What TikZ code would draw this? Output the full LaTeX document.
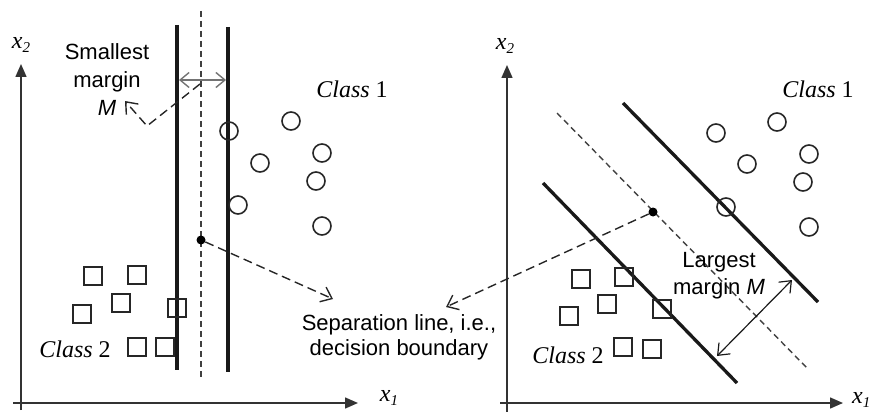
\documentclass[tikz,border=0pt]{standalone}
\usepackage{fontspec}
\setmainfont{Liberation Serif}
\setsansfont{Liberation Sans}
\usetikzlibrary{arrows.meta}
\tikzset{
  axis/.style={draw=black!80, line width=1.5pt, -{Triangle[length=13pt,width=11pt]}},
  bound/.style={draw=black!90, line width=3.3pt},
  midline/.style={draw=black!75, line width=1.4pt, dash pattern=on 6pt off 4pt},
  leader/.style={draw=black!85, line width=1.4pt, dash pattern=on 9pt off 5pt, -{Straight Barb[length=10pt,width=16pt,line width=1.4pt]}},
  circ/.style={circle, draw=black!85, line width=1.6pt, minimum size=18pt, inner sep=0pt},
  sq/.style={rectangle, draw=black!85, line width=1.6pt, minimum size=18pt, inner sep=0pt},
  dotnode/.style={circle, fill=black, minimum size=9pt, inner sep=0pt},
  sanslbl/.style={font=\sffamily\fontsize{22}{27}\selectfont, align=center, inner sep=0pt},
  serlbl/.style={font=\fontsize{24}{28}\selectfont, inner sep=0pt},
  axlbl/.style={font=\fontsize{24}{28}\selectfont, inner sep=0pt},
  marrow/.style={draw=black!55, line width=1.4pt, {Straight Barb[length=9pt,width=15pt,line width=1.4pt]}-{Straight Barb[length=9pt,width=15pt,line width=1.4pt]}},
  larrow/.style={draw=black!90, line width=1.2pt, {Straight Barb[length=10pt,width=16pt,line width=1.2pt]}-{Straight Barb[length=10pt,width=16pt,line width=1.2pt]}}
}
\begin{document}
\begin{tikzpicture}[x=1pt, y=-1pt]
\useasboundingbox (0,0) rectangle (870,412);
% ---------- left panel ----------
\coordinate (Lyb) at (21,410);
\coordinate (Lyt) at (21,64);
\coordinate (Lxl) at (13,403);
\coordinate (Lxr) at (358,403);
\draw[axis] (Lyb) -- (Lyt);
\draw[axis] (Lxl) -- (Lxr);
\node[axlbl] (Lx2) at (21,45) {\textit{x}\raisebox{-0.35ex}{\fontsize{15}{15}\selectfont\textit{2}}};
\node[axlbl] (Lx1) at (389,398) {\textit{x}\raisebox{-0.35ex}{\fontsize{15}{15}\selectfont\textit{1}}};

\coordinate (LAt) at (177,25);
\coordinate (LAb) at (177,370);
\coordinate (LBt) at (228,27);
\coordinate (LBb) at (228,372);
\coordinate (LMt) at (201,11);
\coordinate (LMb) at (201,380);
\draw[bound] (LAt) -- (LAb);
\draw[bound] (LBt) -- (LBb);
\draw[midline] (LMt) -- (LMb);

\coordinate (mA) at (179,80);
\coordinate (mB) at (226,80);
\draw[marrow] (mA) -- (mB);

\node[sanslbl, font=\sffamily\fontsize{22}{28}\selectfont] (small) at (107,80) {Smallest\\margin\\\textit{M}};
\coordinate (ls) at (200,84);
\coordinate (lc) at (147,126);
\coordinate (lt) at (125,101);
\draw[leader] (ls) -- (lc) -- (lt);

\node[circ] (lc1) at (229,131) {};
\node[circ] (lc2) at (291,121) {};
\node[circ] (lc3) at (260,163) {};
\node[circ] (lc4) at (322,153) {};
\node[circ] (lc5) at (316,181) {};
\node[circ] (lc6) at (238,205) {};
\node[circ] (lc7) at (322,226) {};
\node[serlbl] (lclass1) at (352,89) {\textit{Class} 1};

\node[sq] (ls1) at (93,276) {};
\node[sq] (ls2) at (137,275) {};
\node[sq] (ls3) at (121,303) {};
\node[sq] (ls4) at (82,314) {};
\node[sq] (ls5) at (177,308) {};
\node[sq] (ls6) at (137,347) {};
\node[sq] (ls7) at (165,347) {};
\node[serlbl] (lclass2) at (75,349) {\textit{Class} 2};

\node[dotnode] (ldot) at (201,240) {};

% ---------- separation label ----------
\node[sanslbl, font=\sffamily\fontsize{22}{25}\selectfont] (sep) at (399,337) {Separation line, i.e.,\\decision boundary};
\coordinate (sepL) at (333,299);
\coordinate (sepR) at (446,307);
\draw[leader] (ldot) -- (sepL);

% ---------- right panel ----------
\coordinate (Ryb) at (507,412);
\coordinate (Ryt) at (507,65);
\coordinate (Rxl) at (500,403);
\coordinate (Rxr) at (843,403);
\draw[axis] (Ryb) -- (Ryt);
\draw[axis] (Rxl) -- (Rxr);
\node[axlbl] (Rx2) at (505,46) {\textit{x}\raisebox{-0.35ex}{\fontsize{15}{15}\selectfont\textit{2}}};
\node[axlbl, anchor=west] (Rx1) at (852,400) {\textit{x}\raisebox{-0.35ex}{\fontsize{15}{15}\selectfont\textit{1}}};

\coordinate (RLt) at (543,183);
\coordinate (RLb) at (737,383);
\coordinate (RUt) at (623,103);
\coordinate (RUb) at (818,302);
\coordinate (RMt) at (557,113);
\coordinate (RMb) at (807,368);
\draw[bound] (RLt) -- (RLb);
\draw[bound] (RUt) -- (RUb);
\draw[midline] (RMt) -- (RMb);

\node[circ] (rc1) at (716,133) {};
\node[circ] (rc2) at (777,122) {};
\node[circ] (rc3) at (747,164) {};
\node[circ] (rc4) at (809,154) {};
\node[circ] (rc5) at (803,182) {};
\node[circ] (rc6) at (726,207) {};
\node[circ] (rc7) at (809,227) {};
\node[serlbl] (rclass1) at (818,89) {\textit{Class} 1};

\node[sq] (rs1) at (581,279) {};
\node[sq] (rs2) at (624,277) {};
\node[sq] (rs3) at (607,304) {};
\node[sq] (rs4) at (569,316) {};
\node[sq] (rs5) at (662,309) {};
\node[sq] (rs6) at (623,347) {};
\node[sq] (rs7) at (652,349) {};
\node[serlbl] (rclass2) at (568,355) {\textit{Class} 2};

\node[dotnode] (rdot) at (653,212) {};
\draw[leader] (rdot) -- (sepR);

\coordinate (gA) at (792,280);
\coordinate (gB) at (717,356);
\draw[larrow] (gA) -- (gB);
\node[sanslbl, font=\sffamily\fontsize{22}{27}\selectfont] (large) at (719,276) {Largest\\margin \textit{M}};
\end{tikzpicture}
\end{document}
